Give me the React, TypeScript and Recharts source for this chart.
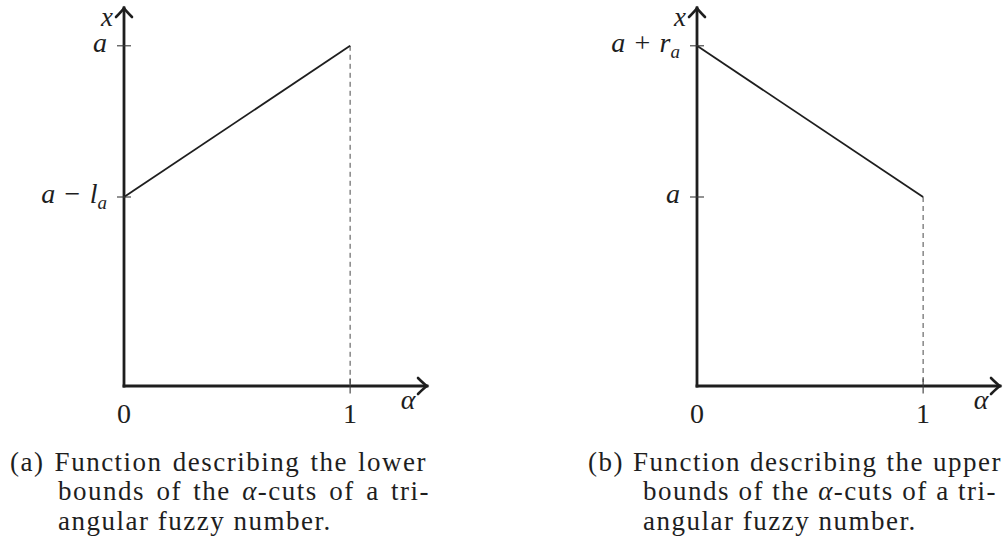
import React from 'react';
import { LineChart, Line, XAxis, YAxis, ReferenceLine, ReferenceDot } from 'recharts';

// alpha runs 0..1, the axis is drawn a little past 1 to leave room for the arrow
const alphaTicks = [0, 1];
const alphaMax = 1.34;
const xMax = 2;

// lower bound: x(0) = a − l_a, x(1) = a
const lowerBound = [1.0, 1.8];
// upper bound: x(0) = a + r_a, x(1) = a
const upperBound = [1.8, 1.0];

const lowerTicks = [1.0, 1.8];
const upperTicks = [1.0, 1.8];

type Part = { t: string; it?: boolean; sub?: boolean };

const lowerTickLabels: Part[][] = [
  [{ t: 'a', it: true }, { t: '\u2004\u2212\u2004' }, { t: 'l', it: true }, { t: 'a', it: true, sub: true }],
  [{ t: 'a', it: true }],
];
const upperTickLabels: Part[][] = [
  [{ t: 'a', it: true }],
  [{ t: 'a', it: true }, { t: '\u2004+\u2004' }, { t: 'r', it: true }, { t: 'a', it: true, sub: true }],
];

const lowerCaption = ['(a) Function describing the lower', 'bounds of the α-cuts of a tri-', 'angular fuzzy number.'];
const upperCaption = ['(b) Function describing the upper', 'bounds of the α-cuts of a tri-', 'angular fuzzy number.'];

const SERIF = '"Liberation Serif", "Times New Roman", serif';
const INK = '#1e1e1e';

const makeYTick = (ticks: number[], labels: Part[][]) => (props: any) => {
  const { x, y, payload } = props;
  const parts = labels[ticks.indexOf(payload.value)] ?? [];
  return (
    <g>
      <line x1={x - 7} x2={x + 7} y1={y} y2={y} stroke="#3a3a3a" strokeWidth={1.1} />
      <text x={x - 17} y={y + 6} textAnchor="end" fontFamily={SERIF} fontSize={28} fill={INK}>
        {parts.map((p, i) => (
          <tspan key={i} fontStyle={p.it ? 'italic' : 'normal'} fontSize={p.sub ? 19 : undefined} dy={p.sub ? 6 : undefined}>
            {p.t}
          </tspan>
        ))}
      </text>
    </g>
  );
};

const XTick = (props: any) => {
  const { x, y, payload } = props;
  return (
    <g>
      {payload.value !== 0 && <line x1={x} x2={x} y1={y - 7.5} y2={y + 7.5} stroke="#3a3a3a" strokeWidth={1.1} />}
      <text x={x} y={y + 37} textAnchor="middle" fontFamily={SERIF} fontSize={28} fill={INK}>
        {payload.value}
      </text>
    </g>
  );
};

// arrowhead pointing right, with the axis label below it
const AlphaArrow = (props: any) => {
  const { cx, cy } = props;
  return (
    <g>
      <path
        d={`M ${cx - 9} ${cy - 8} Q ${cx - 3} ${cy - 2} ${cx} ${cy} Q ${cx - 3} ${cy + 2} ${cx - 9} ${cy + 8}`}
        fill="none"
        stroke={INK}
        strokeWidth={2.6}
        strokeLinecap="round"
      />
      <text x={cx - 19} y={cy + 23} textAnchor="middle" fontFamily={SERIF} fontStyle="italic" fontSize={28} fill={INK}>
        α
      </text>
    </g>
  );
};

// arrowhead pointing up, with the axis label to its left
const XArrow = (props: any) => {
  const { cx, cy } = props;
  return (
    <g>
      <path
        d={`M ${cx - 8} ${cy + 9} Q ${cx - 2} ${cy + 3} ${cx} ${cy} Q ${cx + 2} ${cy + 3} ${cx + 8} ${cy + 9}`}
        fill="none"
        stroke={INK}
        strokeWidth={2.6}
        strokeLinecap="round"
      />
      <text x={cx - 11} y={cy + 18} textAnchor="end" fontFamily={SERIF} fontStyle="italic" fontSize={27} fill={INK}>
        x
      </text>
    </g>
  );
};

const BoundChart = ({ values, ticks, labels }: { values: number[]; ticks: number[]; labels: Part[][] }) => {
  const data = alphaTicks.map((a, i) => ({ alpha: a, x: values[i] }));
  const end = values[values.length - 1];
  return (
    <LineChart width={435} height={430} data={data} margin={{ top: 8, right: 8, bottom: 0, left: 0 }}>
      <XAxis
        type="number"
        dataKey="alpha"
        domain={[0, alphaMax]}
        ticks={alphaTicks}
        height={44}
        tickSize={0}
        tickMargin={0}
        tickLine={false}
        axisLine={{ stroke: INK, strokeWidth: 2.8, strokeLinecap: 'square' }}
        tick={XTick}
      />
      <YAxis
        type="number"
        domain={[0, xMax]}
        ticks={ticks}
        width={124}
        tickSize={0}
        tickMargin={0}
        tickLine={false}
        axisLine={{ stroke: INK, strokeWidth: 2.8, strokeLinecap: 'square' }}
        tick={makeYTick(ticks, labels)}
      />
      <ReferenceLine
        segment={[{ x: 1, y: end }, { x: 1, y: 0 }]}
        stroke="#4a4a4a"
        strokeWidth={1}
        strokeDasharray="5 4"
      />
      <Line type="linear" dataKey="x" stroke={INK} strokeWidth={1.8} dot={false} isAnimationActive={false} />
      <ReferenceDot x={alphaMax} y={0} shape={AlphaArrow} />
      <ReferenceDot x={0} y={xMax} shape={XArrow} />
    </LineChart>
  );
};

const withAlpha = (line: string) =>
  line.split('α').flatMap((s, i) => (i === 0 ? [s] : [<i key={i}>α</i>, s]));

const Caption = ({ lines, left, indent, widths }: { lines: string[]; left: number; indent: number; widths: number[] }) => (
  <>
    {lines.map((line, i) => {
      const justify = i < lines.length - 1;
      return (
        <div
          key={i}
          style={{
            position: 'absolute',
            left: i === 0 ? left : indent,
            top: 447.5 + i * 29.9,
            width: justify ? widths[i] : undefined,
            whiteSpace: 'nowrap',
            textAlign: justify ? 'justify' : 'left',
            textAlignLast: justify ? 'justify' : 'left',
            fontFamily: SERIF,
            fontSize: 27,
            lineHeight: '29.9px',
            letterSpacing: 1.5,
            color: INK,
          }}
        >
          {withAlpha(line)}
        </div>
      );
    })}
  </>
);

export default function App() {
  return (
    <div style={{ position: 'absolute', left: 0, top: 0, width: 1008, height: 543, background: '#fff', overflow: 'hidden' }}>
      <div style={{ position: 'absolute', left: 0, top: 0 }}>
        <BoundChart values={lowerBound} ticks={lowerTicks} labels={lowerTickLabels} />
      </div>
      <div style={{ position: 'absolute', left: 573, top: 0 }}>
        <BoundChart values={upperBound} ticks={upperTicks} labels={upperTickLabels} />
      </div>
      <Caption lines={lowerCaption} left={10} indent={58} widths={[417, 372]} />
      <Caption lines={upperCaption} left={588} indent={643} widths={[414, 354]} />
    </div>
  );
}
